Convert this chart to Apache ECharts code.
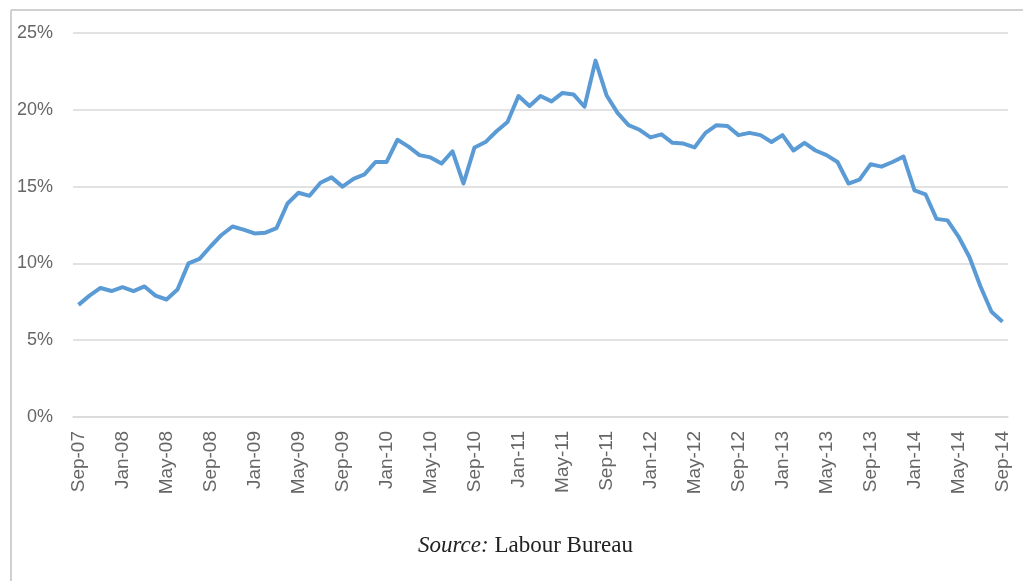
<!DOCTYPE html>
<html>
<head>
<meta charset="utf-8">
<script src="https://cdn.jsdelivr.net/npm/echarts@6/dist/echarts.min.js"></script>
<style>
  html, body { margin: 0; padding: 0; background: #fff; }
  #chart { width: 1023px; height: 581px; }
</style>
</head>
<body>
<div id="chart"></div>
<script>
// monthly, Sep-07 .. Sep-14
const months = [];
const monthNames = ['Jan','Feb','Mar','Apr','May','Jun','Jul','Aug','Sep','Oct','Nov','Dec'];
for (let i = 0; i < 85; i++) {
  const m = (8 + i) % 12;
  const y = 7 + Math.floor((8 + i) / 12);
  months.push(monthNames[m] + '-' + String(y).padStart(2, '0'));
}

// growth rate (%)
const growth = [
  7.3, 7.9, 8.4, 8.2, 8.45, 8.2, 8.5, 7.9, 7.65, 8.3,
  10.0, 10.3, 11.1, 11.85, 12.4, 12.2, 11.95, 12.0, 12.3, 13.9,
  14.6, 14.4, 15.25, 15.6, 15.0, 15.5, 15.8, 16.6, 16.6, 18.05,
  17.6, 17.05, 16.9, 16.5, 17.3, 15.2, 17.55, 17.9, 18.6, 19.2,
  20.9, 20.25, 20.9, 20.55, 21.1, 21.0, 20.2, 23.2, 20.95, 19.8,
  19.0, 18.7, 18.2, 18.4, 17.85, 17.8, 17.55, 18.5, 19.0, 18.95,
  18.35, 18.5, 18.35, 17.9, 18.35, 17.35, 17.85, 17.35, 17.05, 16.6,
  15.2, 15.45, 16.45, 16.3, 16.6, 16.95, 14.75, 14.5, 12.9, 12.8,
  11.75, 10.4, 8.5, 6.85, 6.2
];

const yTicks = [0, 5, 10, 15, 20, 25];

const chart = echarts.init(document.getElementById('chart'));

chart.setOption({
  animation: false,
  backgroundColor: '#ffffff',
  grid: { left: 73, right: 15, top: 33, bottom: 164, containLabel: false },
  xAxis: {
    type: 'category',
    data: months,
    boundaryGap: true,
    axisLine: { lineStyle: { color: '#d9d9d9', width: 1.5 } },
    axisTick: { show: false },
    axisLabel: {
      interval: 3,
      rotate: 90,
      margin: 14,
      color: '#666666',
      fontSize: 19,
      fontFamily: 'Liberation Sans, Arial, sans-serif'
    }
  },
  yAxis: {
    type: 'value',
    min: yTicks[0],
    max: yTicks[yTicks.length - 1],
    interval: 5,
    axisLine: { show: false },
    axisTick: { show: false },
    splitLine: { lineStyle: { color: '#d9d9d9', width: 1.5 } },
    axisLabel: {
      margin: 20,
      color: '#666666',
      fontSize: 18,
      fontFamily: 'Liberation Sans, Arial, sans-serif',
      formatter: v => v + '%'
    }
  },
  series: [{
    type: 'line',
    data: growth,
    symbol: 'none',
    lineStyle: { color: '#5b9bd5', width: 4, join: 'round' },
    itemStyle: { color: '#5b9bd5' }
  }],
  graphic: [
    { type: 'line', shape: { x1: 11, y1: 10, x2: 1023, y2: 10 }, style: { stroke: '#d0d0d0', lineWidth: 2 } },
    { type: 'line', shape: { x1: 11, y1: 10, x2: 11, y2: 581 }, style: { stroke: '#d0d0d0', lineWidth: 2 } },
    {
      type: 'text',
      left: 418,
      top: 534,
      style: {
        text: '{i|Source:} Labour Bureau',
        rich: {
          i: { fontStyle: 'italic', fontFamily: 'Liberation Serif, Times New Roman, serif', fontSize: 23, fill: '#222' }
        },
        font: '23px "Liberation Serif", "Times New Roman", serif',
        fill: '#222'
      }
    }
  ]
});
</script>
</body>
</html>
